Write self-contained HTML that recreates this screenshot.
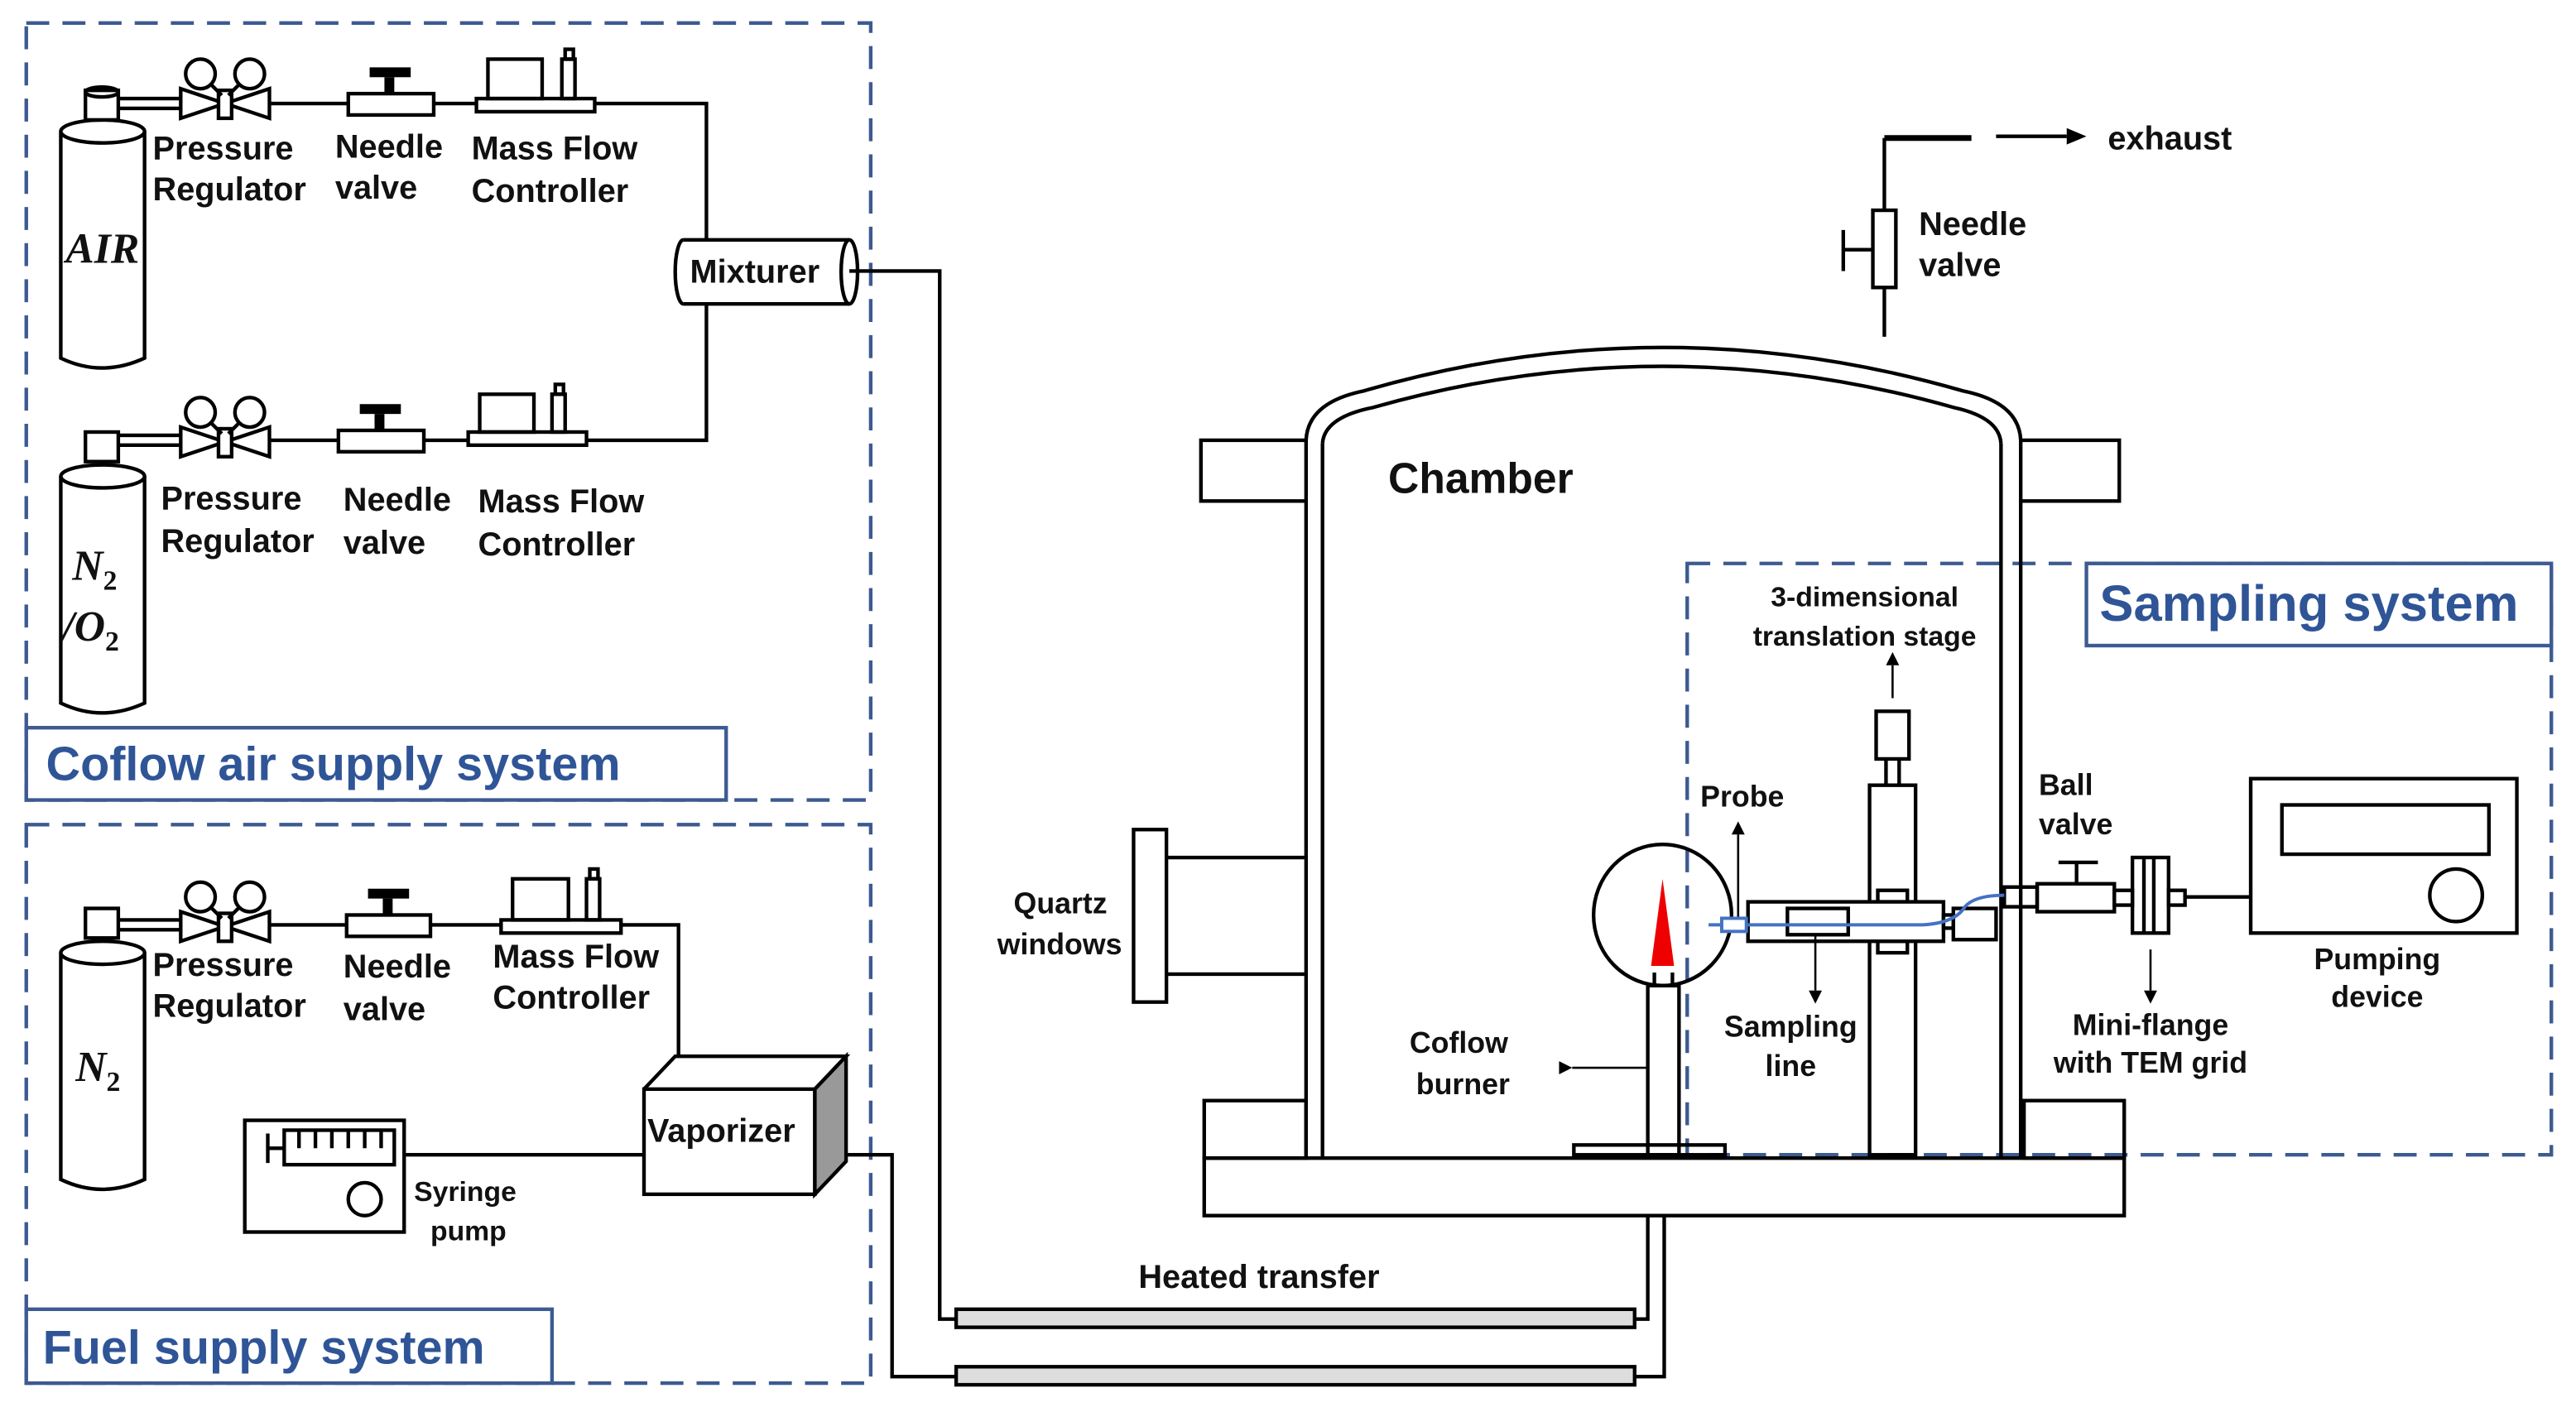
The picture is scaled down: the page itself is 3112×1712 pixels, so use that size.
<!DOCTYPE html>
<html><head><meta charset="utf-8"><style>
html,body{margin:0;padding:0;background:#fff;}
svg{display:block;}
text{font-family:"Liberation Sans",Arial,sans-serif;font-weight:bold;fill:#111;}
.b{fill:#2f5597;}
.it{font-family:"Liberation Serif",serif;font-style:italic;}
</style></head><body>
<svg width="3112" height="1712" viewBox="0 0 1568 862.6" preserveAspectRatio="none" xmlns="http://www.w3.org/2000/svg">
<g fill="none" stroke="#3d5a91" stroke-width="2.2" stroke-dasharray="14,8">
<rect x="16" y="14" width="514" height="473"/>
<rect x="16" y="502" width="514" height="340"/>
<rect x="1027" y="343" width="526" height="360"/>
</g>
<g fill="#fff" stroke="#3d5a91" stroke-width="2.2">
<rect x="16" y="443" width="426" height="44"/>
<rect x="16" y="797" width="320" height="45"/>
<rect x="1270" y="343" width="283" height="50"/>
</g>
<text x="28" y="475" font-size="29" class="b">Coflow air supply system</text>
<text x="26" y="830" font-size="29" class="b">Fuel supply system</text>
<text x="1278" y="378" font-size="31" class="b">Sampling system</text>

<g stroke="#000" stroke-width="2.2" fill="none">
<path d="M37 80 L37 218 Q62 230 88 218 L88 80"/>
<ellipse cx="62.5" cy="80" rx="25.5" ry="7" fill="#fff"/>
<rect x="52" y="55" width="20" height="18" fill="#fff"/>
<ellipse cx="62" cy="56" rx="10" ry="3"/>
<path d="M72 60 H110 M72 66 H110"/>
<path d="M37 290 L37 428 Q62 440 88 428 L88 290"/>
<ellipse cx="62.5" cy="290" rx="25.5" ry="7" fill="#fff"/>
<rect x="52" y="263" width="20" height="18" fill="#fff"/>
<path d="M72 265 H110 M72 271 H110"/>
<path d="M37 580 L37 718 Q62 730 88 718 L88 580"/>
<ellipse cx="62.5" cy="580" rx="25.5" ry="7" fill="#fff"/>
<rect x="52" y="553" width="20" height="18" fill="#fff"/>
<path d="M72 560 H110 M72 566 H110"/>
<g id="reg">
<path d="M110 54 L164 72 L164 54 L110 72 Z"/>
<rect x="133" y="55" width="8" height="17" fill="#fff"/>
<circle cx="122" cy="45" r="9"/><circle cx="152" cy="45" r="9"/>
<path d="M128 51 L135 58 M146 51 L139 58"/>
</g>
<use href="#reg" transform="translate(0,206)"/>
<use href="#reg" transform="translate(0,501)"/>
<path d="M164 63 H212 M264 63 H290 M362 63 H430 V146 M430 185 V268 H357 M258 268 H285 M164 268 H206"/>
<rect x="212" y="57" width="52" height="13"/>
<rect x="206" y="262" width="52" height="13"/>
<rect x="211" y="557" width="51" height="13"/>
<rect x="290" y="60" width="72" height="8"/><rect x="297" y="36" width="33" height="24"/><rect x="342" y="36" width="8" height="24"/><rect x="344" y="30" width="5" height="6"/>
<rect x="285" y="263" width="72" height="8"/><rect x="292" y="240" width="33" height="23"/><rect x="336" y="240" width="8" height="23"/><rect x="338" y="234" width="5" height="6"/>
<rect x="305" y="560" width="73" height="8"/><rect x="312" y="535" width="34" height="25"/><rect x="357" y="535" width="8" height="25"/><rect x="359" y="529" width="5" height="6"/>
<path d="M164 563 H211 M262 563 H305 M378 563 H413 V643"/>
<path d="M416 146 H517 V185 H416 Z" fill="#fff" stroke="none"/>
<path d="M416 146 H517 M416 185 H517"/>
<path d="M416 146 A5 19.5 0 0 0 416 185"/>
<ellipse cx="517" cy="165.5" rx="5" ry="19.5" fill="#fff"/>
<path d="M517 165 H572 V803 H582 M515 703 H543 V838 H582"/>
<rect x="392" y="663" width="104" height="64" fill="#fff"/>
<path d="M392 663 L411 643 H515 L496 663"/>
<path d="M496 663 L515 643 V707 L496 727 Z" fill="#999"/>
<rect x="149" y="682" width="97" height="68"/>
<rect x="173" y="688" width="67" height="21"/>
<path d="M163 690 V708 M163 699 H173 M182 688 V699 M192 688 V699 M202 688 V699 M212 688 V699 M222 688 V699 M232 688 V699"/>
<circle cx="222" cy="730" r="10"/>
<path d="M246 703 H392"/>
<rect x="582" y="797" width="413" height="11" fill="#ddd"/>
<rect x="582" y="832" width="413" height="11" fill="#ddd"/>
<path d="M995 803 H1003 V740 M995 838 H1013 V740"/>
<rect x="733" y="705" width="560" height="35" fill="#fff"/>
<rect x="733" y="670" width="62" height="35"/>
<rect x="1232" y="670" width="61" height="35"/>
<rect x="731" y="268" width="64" height="37"/>
<rect x="1230" y="268" width="60" height="37"/>
<path d="M795 305 V705 M805 270 V705 M1218 270 V705 M1230 305 V705"/>
<path d="M795 268 Q796 245 830 238 Q1012 185 1195 238 Q1229 245 1230 268"/>
<path d="M805 270 Q806 254 836 248 Q1012 198 1189 248 Q1217 254 1218 270"/>
<path d="M1147 205 V175 M1147 128 V84"/>
<path d="M1147 84 H1200" stroke-width="3.5"/>
<rect x="1140" y="128" width="14" height="47"/>
<path d="M1122 140 V165 M1122 152 H1140"/>
<path d="M1215 83 H1258"/>
<rect x="690" y="505" width="20" height="105"/>
<path d="M710 522 H795 M710 593 H795"/>
<ellipse cx="1012" cy="557" rx="42" ry="43"/>
<rect x="1003" y="600" width="19" height="103"/>
<rect x="958" y="697" width="92" height="6"/>
<path d="M1007 592 V600 M1018 592 V600"/>
<path d="M1003 650 H957" stroke-width="1.3"/>
<rect x="1138" y="478" width="28" height="225"/>
<rect x="1142" y="433" width="20" height="29"/>
<path d="M1148 462 V478 M1156 462 V478"/>
<path d="M1152 425 V405" stroke-width="1.3"/>
<rect x="1143" y="542" width="18" height="7" fill="#fff"/>
<rect x="1143" y="573" width="18" height="7" fill="#fff"/>
<rect x="1064" y="549" width="119" height="24" fill="#fff"/>
<rect x="1088" y="553" width="37" height="16"/>
<rect x="1183" y="557" width="6" height="8"/>
<rect x="1189" y="553" width="26" height="19"/>
<path d="M1058 558 V508" stroke-width="1.3"/>
<path d="M1105 570 V603" stroke-width="1.3"/>
<rect x="1220" y="540" width="20" height="12"/>
<rect x="1240" y="538" width="47" height="17"/>
<path d="M1264 538 V525 M1253 525 H1277"/>
<rect x="1287" y="542" width="11" height="9"/>
<rect x="1298" y="522" width="22" height="46"/>
<path d="M1305 522 V568 M1311 522 V568"/>
<rect x="1320" y="542" width="10" height="9"/>
<path d="M1330 546 H1370"/>
<path d="M1309 578 V603" stroke-width="1.3"/>
<rect x="1370" y="474" width="162" height="94"/>
<rect x="1389" y="490" width="126" height="30"/>
<circle cx="1495" cy="545" r="16"/>
</g>
<g fill="#000">
<rect x="225" y="41" width="25" height="6"/><rect x="234" y="47" width="6" height="10"/>
<rect x="219" y="246" width="25" height="6"/><rect x="228" y="252" width="6" height="10"/>
<rect x="224" y="541" width="25" height="6"/><rect x="233" y="547" width="6" height="10"/>
<path d="M1258 78 L1270 83 L1258 88 Z"/>
<path d="M949 646 L957 650 L949 654 Z"/>
<path d="M1148 405 L1152 397 L1156 405 Z"/>
<path d="M1054 508 L1058 500 L1062 508 Z"/>
<path d="M1101 603 L1105 611 L1109 603 Z"/>
<path d="M1305 603 L1309 611 L1313 603 Z"/>
</g>
<path d="M1012 535 L1019 588 H1005 Z" fill="#e00"/>
<g stroke="#4472c4" stroke-width="2" fill="none">
<path d="M1040 563 H1048 M1063 563 H1170 Q1190 562 1196 552 Q1202 545 1220 545"/>
<rect x="1048" y="559" width="15" height="8" fill="#fff"/>
</g>
<g font-size="20">
<text x="93" y="97">Pressure</text><text x="93" y="122">Regulator</text>
<text x="204" y="96">Needle</text><text x="204" y="121">valve</text>
<text x="287" y="97">Mass Flow</text><text x="287" y="123">Controller</text>
<text x="98" y="310">Pressure</text><text x="98" y="336">Regulator</text>
<text x="209" y="311">Needle</text><text x="209" y="337">valve</text>
<text x="291" y="312">Mass Flow</text><text x="291" y="338">Controller</text>
<text x="93" y="594">Pressure</text><text x="93" y="619">Regulator</text>
<text x="209" y="595">Needle</text><text x="209" y="621">valve</text>
<text x="300" y="589">Mass Flow</text><text x="300" y="614">Controller</text>
<text x="420" y="172">Mixturer</text>
<text x="394" y="695">Vaporizer</text>
<text x="1168" y="143">Needle</text><text x="1168" y="168">valve</text>
<text x="1283" y="91">exhaust</text>
<text x="693" y="784">Heated transfer</text>
</g>
<g font-size="18">
<text x="617" y="556">Quartz</text><text x="607" y="581">windows</text>
<text x="858" y="641">Coflow</text><text x="862" y="666">burner</text>
<text x="252" y="731" font-size="17">Syringe</text><text x="262" y="755" font-size="17">pump</text>
<text x="1135" y="369" font-size="17" text-anchor="middle">3-dimensional</text>
<text x="1135" y="393" font-size="17" text-anchor="middle">translation stage</text>
<text x="1035" y="491">Probe</text>
<text x="1090" y="631" text-anchor="middle">Sampling</text><text x="1090" y="655" text-anchor="middle">line</text>
<text x="1241" y="484">Ball</text><text x="1241" y="508">valve</text>
<text x="1309" y="630" text-anchor="middle">Mini-flange</text><text x="1309" y="653" text-anchor="middle">with TEM grid</text>
<text x="1447" y="590" text-anchor="middle">Pumping</text><text x="1447" y="613" text-anchor="middle">device</text>
</g>
<text x="845" y="300" font-size="26">Chamber</text>
<text x="40" y="160" font-size="26" class="it">AIR</text>
<text x="44" y="353" font-size="26" class="it">N<tspan font-size="17" dy="6" font-style="normal">2</tspan></text>
<text x="38" y="390" font-size="26" class="it">/O<tspan font-size="17" dy="6" font-style="normal">2</tspan></text>
<text x="46" y="658" font-size="26" class="it">N<tspan font-size="17" dy="6" font-style="normal">2</tspan></text>
</svg>
</body></html>
